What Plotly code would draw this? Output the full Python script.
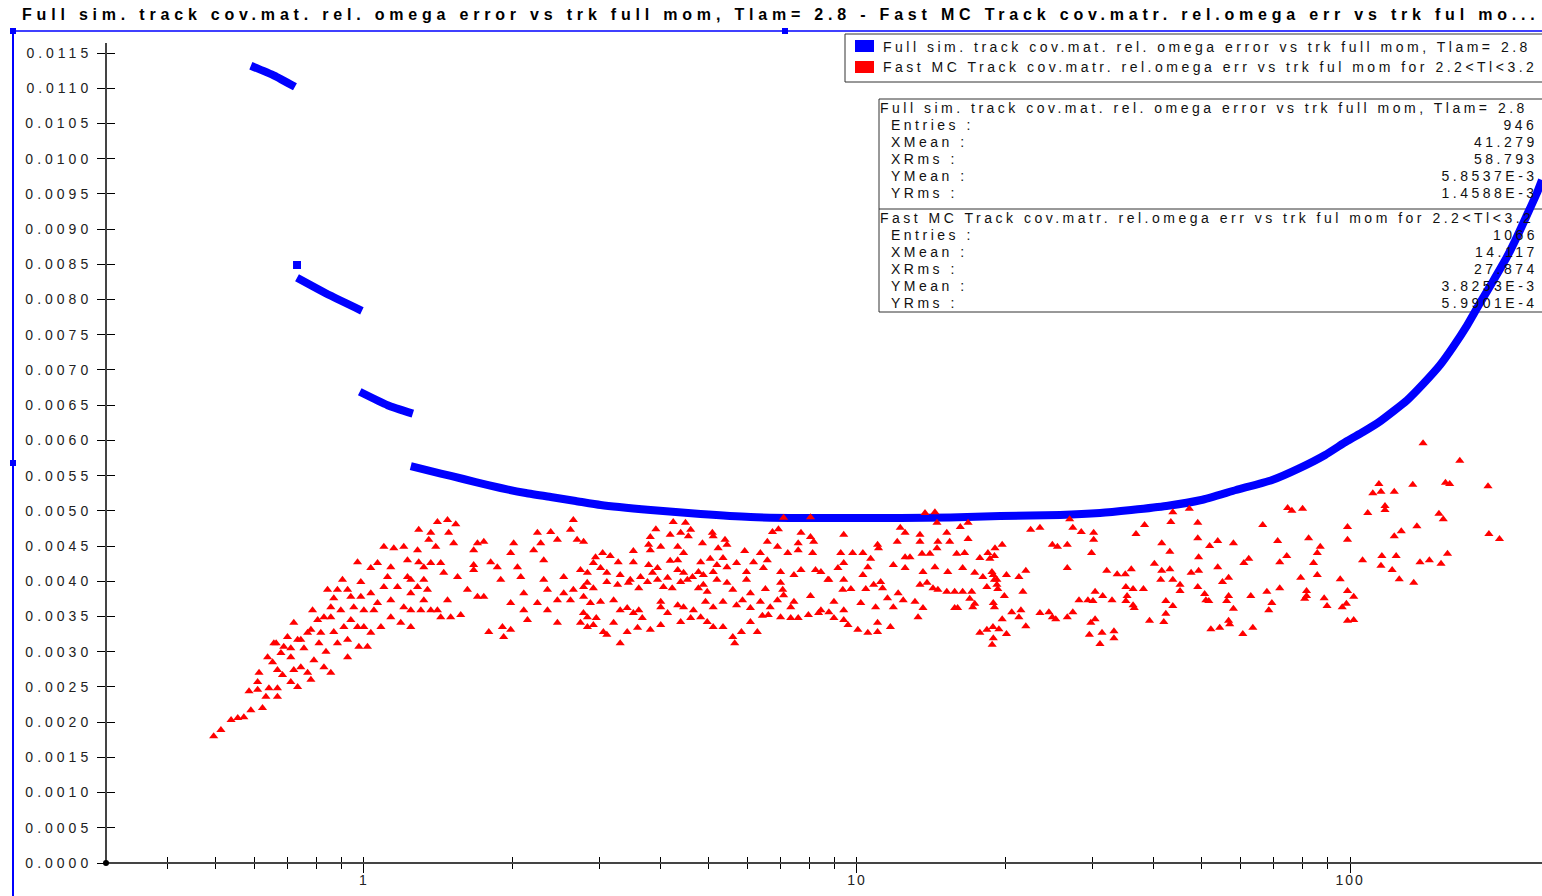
import math
import plotly.graph_objects as go

# ---------------- text ----------------
TITLE = ("Full sim. track cov.mat. rel. omega error vs trk full mom, Tlam= 2.8 - "
         "Fast MC Track cov.matr. rel.omega err vs trk ful mo...")
FULL_NAME = "Full sim. track cov.mat. rel. omega error vs trk full mom, Tlam= 2.8"
FAST_NAME = "Fast MC Track cov.matr. rel.omega err vs trk ful mom for 2.2&lt;Tl&lt;3.2"

full_stats = [("Entries :", "946"), ("XMean :", "41.279"), ("XRms :", "58.793"),
              ("YMean :", "5.8537E-3"), ("YRms :", "1.4588E-3")]
fast_stats = [("Entries :", "1066"), ("XMean :", "14.117"), ("XRms :", "27.874"),
              ("YMean :", "3.8253E-3"), ("YRms :", "5.9901E-4")]

x_major = [1, 10, 100]
x_major_text = ["1", "10", "100"]
x_minor = [0.4, 0.5, 0.6, 0.7, 0.8, 0.9, 2, 3, 4, 5, 6, 7, 8, 9,
           20, 30, 40, 50, 60, 70, 80, 90]

# ---------------- full sim curve (momentum, rel. omega error) ----------------
full_seg1 = [(0.590, 0.01132), (0.658, 0.01118), (0.725, 0.01102)]
full_single = [(0.732, 0.00849)]
full_seg3 = [(0.732, 0.00831), (0.853, 0.00806), (0.991, 0.00784)]
full_seg4 = [(0.981, 0.00669), (1.117, 0.00650), (1.257, 0.00638)]
full_seg5 = [(1.245, 0.005636), (1.367, 0.005565), (1.501, 0.005495), (1.686, 0.005409),
             (1.895, 0.005324), (2.130, 0.005253), (2.393, 0.005196), (2.689, 0.005140),
             (3.021, 0.005083), (3.815, 0.005012), (4.818, 0.004955), (6.083, 0.004912),
             (7.683, 0.004898), (9.93, 0.004898), (12.25, 0.004898), (15.47, 0.004905),
             (19.53, 0.004927), (25.85, 0.004941), (31.1, 0.004969), (35.99, 0.005012),
             (42.4, 0.005069), (49.9, 0.005154), (58.7, 0.005296), (69.5, 0.005438),
             (79.2, 0.005610), (89.0, 0.005793), (98.6, 0.005991), (106.2, 0.006119),
             (115.0, 0.006270), (130.5, 0.006570), (140.6, 0.006800), (152.2, 0.007070),
             (161.7, 0.007326), (172.6, 0.007630), (183.4, 0.007951), (194.9, 0.008260),
             (208.0, 0.008604), (217.9, 0.008888), (228.4, 0.009200), (239.3, 0.009513),
             (245.0, 0.009697)]

# ---------------- fast MC scatter (momentum, rel. omega error) ----------------
fast_low = [
    (0.496, 0.00180), (0.513, 0.00189), (0.538, 0.00203), (0.555, 0.00206), (0.571, 0.00207),
    (0.590, 0.00217), (0.623, 0.00220), (0.585, 0.00244), (0.609, 0.00246), (0.613, 0.00270),
    (0.609, 0.00257), (0.633, 0.00236), (0.642, 0.00248), (0.668, 0.00236), (0.668, 0.00248),
    (0.653, 0.00285), (0.664, 0.00312), (0.684, 0.00267), (0.688, 0.00307), (0.700, 0.00321),
    (0.711, 0.00292), (0.711, 0.00257), (0.734, 0.00250), (0.721, 0.00341), (0.734, 0.00317),
    (0.756, 0.00305), (0.781, 0.00260), (0.787, 0.00359), (0.781, 0.00331), (0.806, 0.00345),
    (0.811, 0.00312), (0.830, 0.00278), (0.838, 0.00300), (0.857, 0.00270), (0.844, 0.00388),
    (0.869, 0.00376), (0.857, 0.00363), (0.869, 0.00328), (0.884, 0.00312), (0.911, 0.00335),
    (0.927, 0.00292), (0.905, 0.00402), (0.941, 0.00378), (0.954, 0.00363), (0.971, 0.00427),
    (0.977, 0.00307), (0.986, 0.00399), (1.000, 0.00359), (1.033, 0.00419), (1.033, 0.00327),
    (1.066, 0.00426), (1.098, 0.00449), (1.066, 0.00369), (1.083, 0.00335), (1.117, 0.00406),
    (1.134, 0.00373), (1.150, 0.00447), (1.205, 0.00449), (1.170, 0.00392), (1.188, 0.00341),
    (1.226, 0.00430), (1.245, 0.00402), (1.245, 0.00359), (1.285, 0.00444), (1.292, 0.00427),
    (1.292, 0.00473), (1.323, 0.00402), (1.354, 0.00459), (1.367, 0.00469), (1.399, 0.00449),
    (1.410, 0.00484), (1.478, 0.00487), (1.536, 0.00481), (1.486, 0.00469), (1.521, 0.00454),
    (1.432, 0.00426), (1.452, 0.00412), (1.367, 0.00426), (1.346, 0.00388), (1.305, 0.00359),
    (1.367, 0.00359), (1.410, 0.00359), (1.478, 0.00373), (1.432, 0.00349), (1.500, 0.00349),
    (1.549, 0.00406), (1.572, 0.00352), (1.622, 0.00388), (1.670, 0.00444), (1.700, 0.00454),
    (1.751, 0.00456), (1.670, 0.00423), (1.670, 0.00416), (1.700, 0.00378), (1.751, 0.00378),
    (1.792, 0.00328), (1.808, 0.00427), (1.865, 0.00420), (1.895, 0.00402), (1.910, 0.00335),
    (1.985, 0.00369), (1.985, 0.00440), (2.013, 0.00454), (2.049, 0.00420), (2.081, 0.00406),
    (2.110, 0.00383), (2.147, 0.00345), (2.210, 0.00444), (2.249, 0.00469), (2.284, 0.00454),
    (2.316, 0.00430), (2.316, 0.00402), (2.357, 0.00388), (2.393, 0.00470), (2.469, 0.00459),
    (2.543, 0.00406), (2.624, 0.00473), (2.660, 0.00487), (2.707, 0.00459), (2.750, 0.00416),
    (2.838, 0.00398), (2.788, 0.00355), (2.750, 0.00341), (2.624, 0.00373), (2.469, 0.00373),
    (2.357, 0.00359), (2.249, 0.00369), (2.110, 0.00359), (1.985, 0.00331), (1.921, 0.00321),
    (2.469, 0.00341), (2.660, 0.00388), (2.543, 0.00383), (0.657, 0.00312), (0.679, 0.00298),
    (0.638, 0.00292), (0.721, 0.00274), (0.745, 0.00278), (0.769, 0.00270), (0.792, 0.00288),
    (0.668, 0.00274), (0.711, 0.00305), (0.745, 0.00317), (0.769, 0.00327), (0.818, 0.00327),
    (0.830, 0.00349), (0.857, 0.00349), (0.898, 0.00359), (0.927, 0.00317), (0.941, 0.00345),
    (0.971, 0.00335), (0.986, 0.00378), (1.033, 0.00383), (1.048, 0.00359), (1.017, 0.00307),
    (1.098, 0.00392), (1.134, 0.00420), (1.205, 0.00363), (1.226, 0.00406), (1.134, 0.00349),
    (1.245, 0.00383), (1.285, 0.00392), (1.323, 0.00420), (1.245, 0.00335), (1.323, 0.00373),
    (1.000, 0.00335), (0.927, 0.00388), (0.884, 0.00388),
]

fast_mid = [
    (7.10, 0.00490), (8.05, 0.00491), (13.74, 0.00497), (14.39, 0.00498), (14.53, 0.00483),
    (4.24, 0.00484), (4.49, 0.00483), (3.91, 0.00474), (3.81, 0.00463), (4.18, 0.00466),
    (4.39, 0.00469), (4.60, 0.00473), (4.55, 0.00464), (5.09, 0.00469), (5.11, 0.00464),
    (4.86, 0.00454), (5.40, 0.00459), (5.45, 0.00452), (3.78, 0.00452), (3.81, 0.00444),
    (4.00, 0.00449), (4.33, 0.00449), (3.52, 0.00443), (3.05, 0.00440), (2.95, 0.00434),
    (3.16, 0.00436), (2.92, 0.00426), (2.79, 0.00456), (3.28, 0.00427), (3.52, 0.00427),
    (3.78, 0.00423), (3.94, 0.00419), (4.18, 0.00429), (4.33, 0.00430), (4.45, 0.00440),
    (4.82, 0.00427), (5.04, 0.00432), (5.20, 0.00423), (5.35, 0.00433), (5.23, 0.00447),
    (5.92, 0.00443), (6.37, 0.00440), (6.58, 0.00456), (6.90, 0.00449), (6.74, 0.00470),
    (6.93, 0.00474), (7.24, 0.00440), (7.60, 0.00444), (7.70, 0.00469), (8.05, 0.00463),
    (8.17, 0.00456), (8.13, 0.00440), (7.60, 0.00454), (9.40, 0.00466), (11.01, 0.00452),
    (11.06, 0.00447), (12.24, 0.00476), (12.52, 0.00469), (12.07, 0.00456), (13.42, 0.00466),
    (13.42, 0.00456), (14.59, 0.00456), (15.42, 0.00456), (15.21, 0.00469), (16.2, 0.00477),
    (16.8, 0.00483), (16.8, 0.00460), (9.27, 0.00440), (9.80, 0.00440), (10.28, 0.00440),
    (10.66, 0.00432), (12.52, 0.00434), (12.81, 0.00434), (13.55, 0.00439), (14.06, 0.00439),
    (14.53, 0.00447), (15.93, 0.00439), (16.53, 0.00440), (17.75, 0.00433), (18.43, 0.00440),
    (19.05, 0.00447), (2.84, 0.00412), (3.02, 0.00419), (3.11, 0.00412), (3.31, 0.00409),
    (3.47, 0.00402), (3.64, 0.00406), (3.85, 0.00412), (3.94, 0.00402), (4.13, 0.00405),
    (4.33, 0.00416), (4.45, 0.00412), (4.64, 0.00406), (4.77, 0.00413), (4.88, 0.00409),
    (5.11, 0.00413), (5.45, 0.00420), (5.70, 0.00426), (5.97, 0.00413), (6.17, 0.00427),
    (6.46, 0.00419), (6.58, 0.00430), (7.00, 0.00413), (7.45, 0.00409), (7.70, 0.00416),
    (8.24, 0.00416), (8.45, 0.00413), (8.73, 0.00402), (9.15, 0.00419), (9.40, 0.00426),
    (10.28, 0.00409), (10.52, 0.00420), (11.85, 0.00423), (12.52, 0.00419), (13.61, 0.00413),
    (14.39, 0.00420), (15.28, 0.00413), (16.38, 0.00419), (17.33, 0.00412), (18.00, 0.00406),
    (18.78, 0.00413), (19.22, 0.00402), (2.79, 0.00392), (2.92, 0.00390), (3.11, 0.00399),
    (3.27, 0.00395), (3.44, 0.00398), (3.61, 0.00390), (3.76, 0.00399), (4.05, 0.00392),
    (4.22, 0.00390), (4.39, 0.00399), (4.53, 0.00402), (4.77, 0.00390), (4.88, 0.00395),
    (4.97, 0.00385), (5.20, 0.00402), (5.45, 0.00398), (5.60, 0.00388), (5.97, 0.00402),
    (6.08, 0.00383), (6.52, 0.00389), (7.00, 0.00398), (7.07, 0.00388), (7.10, 0.00380),
    (8.05, 0.00379), (8.77, 0.00402), (9.40, 0.00402), (9.36, 0.00388), (9.72, 0.00389),
    (10.42, 0.00389), (10.81, 0.00395), (11.17, 0.00399), (11.27, 0.00390), (12.12, 0.00383),
    (13.42, 0.00395), (13.87, 0.00398), (14.26, 0.00390), (14.59, 0.00388), (15.21, 0.00385),
    (15.78, 0.00385), (16.38, 0.00385), (17.09, 0.00385), (18.34, 0.00392), (19.22, 0.00395),
    (2.79, 0.00378), (2.88, 0.00369), (3.02, 0.00371), (3.21, 0.00373), (3.42, 0.00362),
    (3.61, 0.00359), (4.00, 0.00371), (4.00, 0.00363), (4.33, 0.00366), (4.45, 0.00363),
    (4.66, 0.00359), (4.93, 0.00371), (5.11, 0.00363), (5.35, 0.00371), (5.70, 0.00366),
    (5.86, 0.00373), (6.08, 0.00362), (6.37, 0.00371), (6.67, 0.00363), (6.90, 0.00373),
    (7.34, 0.00363), (7.45, 0.00371), (8.45, 0.00359), (8.98, 0.00371), (9.40, 0.00359),
    (10.18, 0.00369), (10.91, 0.00363), (11.53, 0.00376), (11.85, 0.00363), (12.41, 0.00373),
    (13.11, 0.00371), (13.61, 0.00362), (15.78, 0.00362), (16.93, 0.00375), (17.33, 0.00368),
    (2.84, 0.00349), (2.96, 0.00348), (3.31, 0.00359), (3.52, 0.00355), (3.67, 0.00348),
    (2.84, 0.00335), (2.92, 0.00338), (3.06, 0.00328), (3.11, 0.00324), (3.21, 0.00341),
    (3.42, 0.00328), (3.59, 0.00334), (3.81, 0.00331), (4.00, 0.00338), (4.13, 0.00355),
    (4.39, 0.00342), (4.60, 0.00348), (4.82, 0.00349), (4.97, 0.00342), (5.11, 0.00335),
    (5.35, 0.00335), (5.60, 0.00321), (5.65, 0.00312), (5.83, 0.00328), (6.08, 0.00342),
    (6.28, 0.00328), (6.43, 0.00351), (6.61, 0.00352), (7.00, 0.00349), (7.34, 0.00348),
    (7.60, 0.00348), (7.97, 0.00352), (8.36, 0.00355), (8.77, 0.00356), (8.98, 0.00348),
    (9.40, 0.00345), (9.59, 0.00338), (10.04, 0.00331), (10.52, 0.00327), (11.01, 0.00328),
    (11.01, 0.00341), (11.69, 0.00335), (3.31, 0.00312), (13.30, 0.00349), (17.75, 0.00327),
    (18.34, 0.00331), (18.87, 0.00335), (17.17, 0.00363), (16.00, 0.00362),
]

fast_high = [
    (27.0, 0.00488), (43.7, 0.00498), (47.2, 0.00503), (22.5, 0.00473), (23.5, 0.00476),
    (27.4, 0.00476), (28.5, 0.00470), (30.2, 0.00469), (30.2, 0.00459), (19.7, 0.00452),
    (19.0, 0.00436), (24.9, 0.00452), (25.5, 0.00449), (26.7, 0.00452), (29.9, 0.00440),
    (38.3, 0.00480), (36.8, 0.00467), (43.3, 0.00484), (49.1, 0.00483), (41.5, 0.00454),
    (43.1, 0.00442), (49.1, 0.00461), (51.9, 0.00450), (53.9, 0.00457), (58.0, 0.00454),
    (66.5, 0.00480), (74.7, 0.00504), (76.2, 0.00500), (80.1, 0.00503), (71.3, 0.00457),
    (74.4, 0.00436), (72.0, 0.00427), (82.4, 0.00461), (87.0, 0.00449), (85.8, 0.00440),
    (84.3, 0.00426), (98.8, 0.00477), (98.8, 0.00459), (114.4, 0.00538), (111.2, 0.00525),
    (115.5, 0.00527), (122.9, 0.00527), (134.0, 0.00537), (140.6, 0.00596), (166.9, 0.00571),
    (156.1, 0.00540), (159.2, 0.00538), (190.4, 0.00535), (108.6, 0.00497), (117.7, 0.00507),
    (117.7, 0.00501), (136.6, 0.00478), (122.9, 0.00464), (127.0, 0.00471), (151.4, 0.00496),
    (154.5, 0.00488), (191.2, 0.00467), (200.9, 0.00460), (18.6, 0.00432), (18.9, 0.00409),
    (20.1, 0.00409), (19.0, 0.00402), (21.3, 0.00406), (22.0, 0.00415), (26.7, 0.00419),
    (32.1, 0.00415), (33.7, 0.00410), (35.0, 0.00410), (36.0, 0.00417), (40.1, 0.00425),
    (41.5, 0.00415), (43.1, 0.00417), (41.3, 0.00402), (43.7, 0.00402), (45.2, 0.00395),
    (45.2, 0.00386), (47.6, 0.00412), (49.3, 0.00415), (49.3, 0.00434), (49.1, 0.00392),
    (53.9, 0.00420), (55.1, 0.00399), (56.7, 0.00405), (60.9, 0.00426), (62.3, 0.00432),
    (79.4, 0.00405), (85.8, 0.00409), (95.5, 0.00403), (106.0, 0.00430), (116.0, 0.00436),
    (124.0, 0.00436), (115.5, 0.00422), (121.7, 0.00416), (125.8, 0.00403), (134.6, 0.00398),
    (138.6, 0.00427), (144.8, 0.00430), (152.9, 0.00425), (157.6, 0.00439), (19.3, 0.00389),
    (19.9, 0.00379), (18.9, 0.00369), (19.0, 0.00363), (21.7, 0.00385), (19.7, 0.00346),
    (19.4, 0.00332), (20.1, 0.00325), (18.9, 0.00319), (18.8, 0.00310), (20.6, 0.00356),
    (21.5, 0.00359), (21.3, 0.00349), (22.0, 0.00336), (23.5, 0.00355), (24.5, 0.00356),
    (24.9, 0.00349), (25.3, 0.00346), (26.7, 0.00349), (27.4, 0.00356), (28.2, 0.00373),
    (29.4, 0.00373), (30.4, 0.00385), (30.1, 0.00372), (31.5, 0.00379), (32.9, 0.00373),
    (29.8, 0.00341), (30.4, 0.00346), (29.6, 0.00324), (31.4, 0.00327), (31.1, 0.00311),
    (33.2, 0.00329), (33.2, 0.00319), (35.1, 0.00392), (36.3, 0.00389), (38.1, 0.00389),
    (35.3, 0.00379), (35.1, 0.00372), (36.3, 0.00366), (36.5, 0.00362), (39.2, 0.00344),
    (41.9, 0.00342), (42.3, 0.00372), (43.7, 0.00365), (42.3, 0.00354), (50.7, 0.00382),
    (51.0, 0.00373), (51.7, 0.00372), (52.2, 0.00332), (54.4, 0.00334), (56.7, 0.00344),
    (57.0, 0.00339), (56.2, 0.00372), (56.7, 0.00379), (58.0, 0.00361), (60.6, 0.00325),
    (63.5, 0.00334), (62.9, 0.00379), (67.8, 0.00385), (69.4, 0.00369), (68.4, 0.00359),
    (72.0, 0.00390), (81.6, 0.00386), (81.6, 0.00379), (80.9, 0.00375), (88.6, 0.00376),
    (89.8, 0.00365), (96.4, 0.00363), (98.3, 0.00368), (98.8, 0.00386), (101.7, 0.00378),
    (98.8, 0.00344), (101.7, 0.00345),
]

# ---------------- assemble ----------------
full_x, full_y = [], []
for seg in (full_seg1, full_seg3, full_seg4, full_seg5):
    if full_x:
        full_x.append(None)
        full_y.append(None)
    full_x += [p for p, _ in seg]
    full_y += [e for _, e in seg]

fast_pts = fast_low + fast_mid + fast_high
fast_x = [p for p, _ in fast_pts]
fast_y = [e for _, e in fast_pts]

W, H = 1542, 896
L, R, T, B = 106, 1542, 43, 863   # plot area in pixels


def px(x):
    return (x - L) / (R - L)


def py(y):
    return (B - y) / (B - T)


FONT = "Liberation Sans, Arial, sans-serif"
XR = [math.log10(0.3), math.log10(245.0)]
YR = [0, 0.011642]
BLUE = "#0000ff"
RED = "#ff0000"
AXC = "#444444"

fig = go.Figure()
fig.add_trace(go.Scatter(
    x=full_x, y=full_y, mode="lines", name=FULL_NAME,
    line=dict(color=BLUE, width=8, shape="spline", smoothing=0.5),
    connectgaps=False, showlegend=False, hoverinfo="skip"))
fig.add_trace(go.Scatter(
    x=[p for p, _ in full_single], y=[e for _, e in full_single], mode="markers",
    name=FULL_NAME, marker=dict(symbol="square", size=8, color=BLUE, line=dict(width=0)),
    showlegend=False, hoverinfo="skip"))
fig.add_trace(go.Scatter(
    x=fast_x, y=fast_y, mode="markers", name=FAST_NAME,
    marker=dict(symbol="triangle-up", size=8, color=RED, line=dict(width=0)),
    showlegend=False, hoverinfo="skip"))

shapes = []
annos = []
TXT = "#111111"
# axis lines (ticks come from the axes, which sit slightly inside so they cross these lines)
shapes.append(dict(type="line", xref="paper", yref="paper", x0=0, x1=0, y0=0, y1=1,
                   line=dict(color=AXC, width=2), layer="above"))
shapes.append(dict(type="line", xref="paper", yref="paper", x0=0, x1=1, y0=0, y1=0,
                   line=dict(color=AXC, width=2), layer="above"))
shapes.append(dict(type="circle", xref="paper", yref="paper", x0=px(103), x1=px(109),
                   y0=py(866), y1=py(860), fillcolor="#000000", line=dict(width=0),
                   layer="above"))
# selection frame
shapes.append(dict(type="line", xref="paper", yref="paper", x0=px(13), x1=px(13),
                   y0=py(31), y1=py(896), line=dict(color=BLUE, width=2), layer="above"))
shapes.append(dict(type="line", xref="paper", yref="paper", x0=px(13), x1=px(1545),
                   y0=py(31), y1=py(31), line=dict(color=BLUE, width=1.5), layer="above"))
for hx, hy in [(13, 31), (13, 463), (785, 31)]:
    shapes.append(dict(type="rect", xref="paper", yref="paper", x0=px(hx - 3), x1=px(hx + 3),
                       y0=py(hy + 3), y1=py(hy - 3), fillcolor=BLUE,
                       line=dict(width=0), layer="above"))

# legend box
shapes.append(dict(type="rect", xref="paper", yref="paper", x0=px(845), x1=px(1548),
                   y0=py(82), y1=py(34), fillcolor="white",
                   line=dict(color="#333333", width=1), layer="below"))
shapes.append(dict(type="rect", xref="paper", yref="paper", x0=px(855), x1=px(874),
                   y0=py(52), y1=py(40), fillcolor=BLUE,
                   line=dict(color=BLUE, width=0), layer="below"))
shapes.append(dict(type="rect", xref="paper", yref="paper", x0=px(855), x1=px(874),
                   y0=py(73), y1=py(61), fillcolor=RED,
                   line=dict(color=RED, width=0), layer="below"))
for name, ty in [(FULL_NAME, 47), (FAST_NAME, 67)]:
    annos.append(dict(text=name, xref="paper", yref="paper", x=px(881), y=py(ty),
                      xanchor="left", yanchor="middle", align="left", showarrow=False,
                      font=dict(family=FONT, size=14, color=TXT)))

# stats box
shapes.append(dict(type="rect", xref="paper", yref="paper", x0=px(879), x1=px(1548),
                   y0=py(312), y1=py(99), fillcolor="white",
                   line=dict(color="#333333", width=1), layer="below"))
shapes.append(dict(type="line", xref="paper", yref="paper", x0=px(879), x1=px(1548),
                   y0=py(209), y1=py(209), line=dict(color="#333333", width=1), layer="below"))
for header, stats, y0 in [(FULL_NAME, full_stats, 108), (FAST_NAME, fast_stats, 218)]:
    annos.append(dict(text=header, xref="paper", yref="paper", x=px(878), y=py(y0),
                      xanchor="left", yanchor="middle", align="left", showarrow=False,
                      font=dict(family=FONT, size=14, color=TXT)))
    for i, (lab, val) in enumerate(stats):
        yy = y0 + 17 * (i + 1)
        annos.append(dict(text=lab, xref="paper", yref="paper", x=px(889), y=py(yy),
                          xanchor="left", yanchor="middle", align="left", showarrow=False,
                          font=dict(family=FONT, size=14, color=TXT)))
        annos.append(dict(text=val, xref="paper", yref="paper", x=px(1540), y=py(yy),
                          xanchor="right", yanchor="middle", align="right", showarrow=False,
                          font=dict(family=FONT, size=14, color=TXT)))

fig.update_layout(
    width=W, height=H, autosize=False,
    margin=dict(l=L, r=W - R, t=T, b=H - B, pad=0),
    paper_bgcolor="white", plot_bgcolor="white",
    showlegend=False,
    title=dict(text=TITLE, xref="container", yref="container", x=22 / W, xanchor="left",
               y=1 - 14 / H, yanchor="middle",
               font=dict(family=FONT, size=16, color="#000000", weight="bold")),
    xaxis=dict(type="log", range=XR, anchor="free", position=py(856),
               tickmode="array", tickvals=x_major, ticktext=x_major_text,
               ticks="outside", ticklen=16, tickwidth=1, tickcolor="#000000",
               showline=False,
               tickfont=dict(family=FONT, size=14, color="#222222"),
               ticklabelstandoff=-5,
               minor=dict(tickmode="array", tickvals=x_minor, ticks="outside", ticklen=12,
                          tickwidth=1, tickcolor="#000000"),
               showgrid=False, zeroline=False),
    yaxis=dict(range=YR, anchor="free", position=px(115),
               tickmode="linear", tick0=0, dtick=0.0005, tickformat=".4f",
               ticks="outside", ticklen=18, tickwidth=1, tickcolor="#000000",
               showline=False,
               tickfont=dict(family=FONT, size=14, color="#222222"),
               ticklabelstandoff=2, showgrid=False, zeroline=False),
    shapes=shapes,
    annotations=annos,
)

post = """
document.body.style.margin='0';
function sp(sel, v){document.querySelectorAll(sel).forEach(function(e){e.style.letterSpacing=v;});}
sp('.gtitle','4.8px');
sp('.xtick text','2px');
sp('.ytick text','4px');
sp('.annotation-text','3.5px');
"""

fig.write_html("out.html", post_script=post, config={"displayModeBar": False})
